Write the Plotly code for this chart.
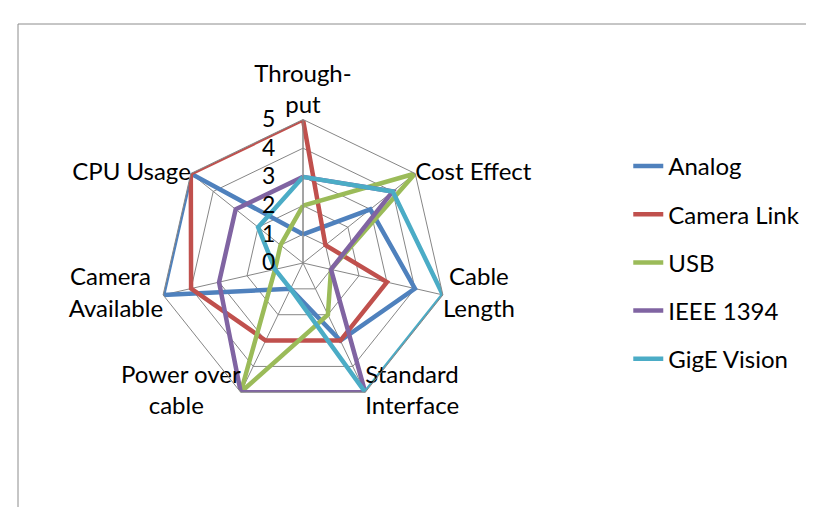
import plotly.graph_objects as go

NB = "\u00a0"
categories = ["Through-put", "Cost Effect", "Cable Length", "Standard Interface",
              "Power over cable", "Camera Available", "CPU Usage"]
category_labels = ["Through-<br>put", "Cost Effect", NB + "Cable<br>Length",
                   "Standard<br>Interface", "Power over<br>cable" + NB * 6,
                   "Camera" + NB * 2 + "<br>Available", "CPU Usage"]
label_positions = ["top center", "middle right", "middle right", "middle right",
                   "middle left", "middle left", "middle left"]
analog = [1, 3, 4, 3, 1, 5, 5]
camera_link = [5, 1, 3, 3, 3, 4, 5]
usb = [2, 5, 1, 2, 5, 1, 1]
ieee1394 = [3, 4, 1, 5, 5, 3, 3]
gige = [3, 4, 5, 5, 1, 1, 2]
series_names = ["Analog", "Camera Link", "USB", "IEEE 1394", "GigE Vision"]
series_values = [analog, camera_link, usb, ieee1394, gige]
colors = ["#4F81BD", "#C0504D", "#9BBB59", "#8064A2", "#4BACC6"]
radial_ticks = [0, 1, 2, 3, 4, 5]
r_max = 5

W, H = 814, 507
cx, cy, R = 295, 255, 143.5

fig = go.Figure()
for name, vals, col in zip(series_names, series_values, colors):
    fig.add_trace(go.Scatterpolar(
        r=vals + vals[:1], theta=categories + categories[:1],
        mode="lines", name=name, legendgroup=name,
        line=dict(color=col, width=4.5), hoverinfo="skip",
    ))

# category labels placed at the outer vertices through the polar scale
fig.add_trace(go.Scatterpolar(
    r=[r_max] * len(categories), theta=categories,
    mode="text", text=category_labels, textposition=label_positions,
    textfont=dict(size=24, color="black", family="Lato"),
    showlegend=False, hoverinfo="skip", cliponaxis=False,
))

grid = "#868686"
fig.update_layout(
    width=W, height=H,
    margin=dict(l=0, r=0, t=0, b=0),
    paper_bgcolor="white",
    font=dict(family="Lato", size=24, color="black"),
    polar=dict(
        domain=dict(x=[(cx - R) / W, (cx + R) / W],
                    y=[(H - cy - R) / H, (H - cy + R) / H]),
        bgcolor="white",
        gridshape="linear",
        radialaxis=dict(range=[0, r_max], tickvals=radial_ticks, angle=90,
                        side="counterclockwise", tickangle=90,
                        ticks="outside", ticklen=19, tickcolor="rgba(0,0,0,0)",
                        showgrid=True, gridcolor=grid, gridwidth=1,
                        showline=True, linecolor=grid, linewidth=1,
                        tickfont=dict(size=23)),
        angularaxis=dict(rotation=90, direction="clockwise",
                         showgrid=True, gridcolor=grid, gridwidth=1,
                         showline=True, linecolor=grid, linewidth=1,
                         ticks="", showticklabels=False),
    ),
    legend=dict(x=0.762, y=0.732, xanchor="left", yanchor="top",
                tracegroupgap=14, font=dict(size=24),
                bgcolor="rgba(0,0,0,0)"),
    shapes=[dict(type="rect", xref="paper", yref="paper",
                 x0=10 / W, x1=1.05, y0=-0.05, y1=1 - 16 / H,
                 line=dict(color="#8C8C8C", width=1))],
)

fig.write_html("out.html")
